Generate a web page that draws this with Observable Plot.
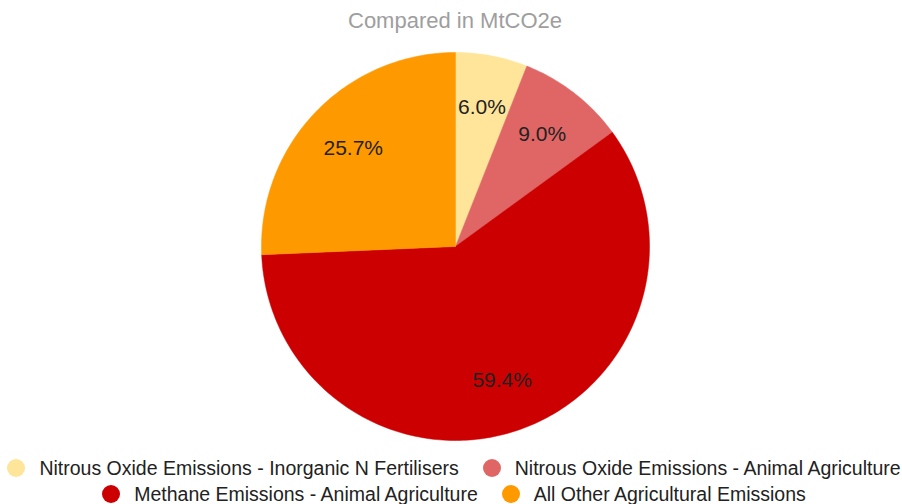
<!DOCTYPE html>
<html>
<head>
<meta charset="utf-8">
<script src="https://cdn.jsdelivr.net/npm/d3@7"></script>
<script src="https://cdn.jsdelivr.net/npm/@observablehq/plot@0.6"></script>
<style>
  html, body { margin: 0; padding: 0; background: #fff; }
  body { width: 902px; height: 504px; overflow: hidden; font-family: "Liberation Sans", Arial, sans-serif; }
  #title { height: 38px; line-height: 42px; text-align: center; color: #9e9e9e; font-size: 22px; padding-left: 8px; }
  #chart svg { display: block; }
  #legend { padding-top: 7px; }
  .legend { display: flex; justify-content: center; align-items: center; font-size: 19.5px; color: #222; white-space: nowrap; height: 26px; padding-left: 6px; }
  .item { display: flex; align-items: center; margin: 0 12px; }
  .dot { width: 18px; height: 18px; border-radius: 50%; margin-right: 14px; }
</style>
</head>
<body>
<div id="title">Compared in MtCO2e</div>
<div id="chart"></div>
<div id="legend"></div>
<script>
const categories = [
  "Nitrous Oxide Emissions - Inorganic N Fertilisers",
  "Nitrous Oxide Emissions - Animal Agriculture",
  "Methane Emissions - Animal Agriculture",
  "All Other Agricultural Emissions"
];
const shares = [6.0, 9.0, 59.4, 25.7];
const labels = ["6.0%", "9.0%", "59.4%", "25.7%"];
const colors = ["#ffe599", "#e06666", "#cc0000", "#ff9900"];

// build slice polygons (unit circle, clockwise from 12 o'clock)
const total = d3.sum(shares);
const slices = [];
const labelPts = [];
let start = 0;
categories.forEach((cat, i) => {
  const a0 = start / total * 2 * Math.PI;
  const a1 = (start + shares[i]) / total * 2 * Math.PI;
  slices.push({cat, x: 0, y: 0});
  const n = Math.max(4, Math.ceil((a1 - a0) / (Math.PI / 180)));
  for (let k = 0; k <= n; k++) {
    const a = a0 + (a1 - a0) * k / n;
    slices.push({cat, x: Math.sin(a), y: Math.cos(a)});
  }
  slices.push({cat, x: 0, y: 0});
  const am = (a0 + a1) / 2;
  labelPts.push({label: labels[i], x: 0.73 * Math.sin(am), y: 0.73 * Math.cos(am)});
  start += shares[i];
});

const cx = 455, cy = 208, r = 194;
const chart = Plot.plot({
  width: 902,
  height: 410,
  margin: 0,
  x: {domain: [-1, 1], range: [cx - r, cx + r], axis: null},
  y: {domain: [-1, 1], range: [cy + r, cy - r], axis: null},
  color: {domain: categories, range: colors},
  marks: [
    Plot.line(slices, {x: "x", y: "y", z: "cat", fill: "cat", stroke: "cat", strokeWidth: 0.5, curve: "linear"}),
    Plot.text(labelPts, {x: "x", y: "y", text: "label", fontSize: 21, fill: "#222", fontFamily: "Liberation Sans, Arial, sans-serif"})
  ]
});
document.getElementById("chart").appendChild(chart);

// legend (two rows, like reference)
const rows = [[0, 1], [2, 3]];
const leg = document.getElementById("legend");
rows.forEach(row => {
  const div = document.createElement("div");
  div.className = "legend";
  row.forEach(i => {
    const it = document.createElement("div");
    it.className = "item";
    const d = document.createElement("span");
    d.className = "dot";
    d.style.background = colors[i];
    const t = document.createElement("span");
    t.textContent = categories[i];
    it.appendChild(d); it.appendChild(t);
    div.appendChild(it);
  });
  leg.appendChild(div);
});
</script>
</body>
</html>
